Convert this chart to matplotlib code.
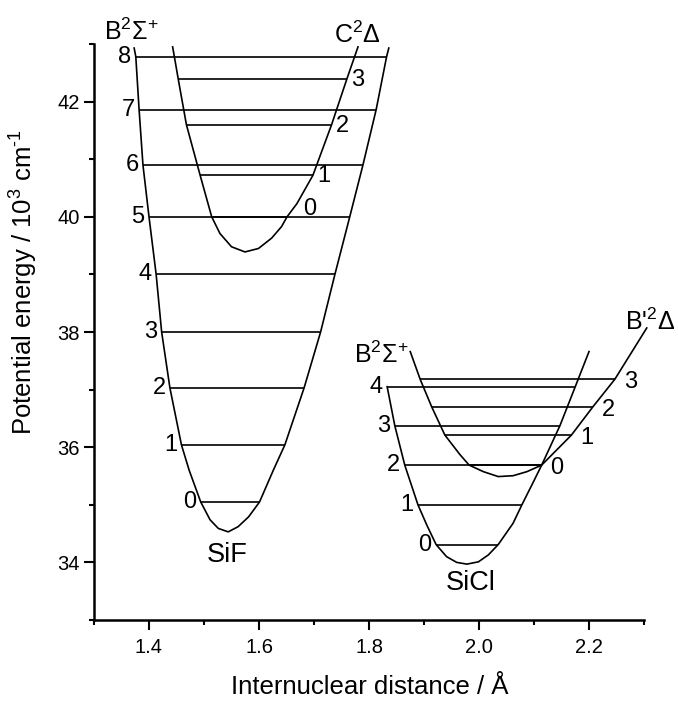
import matplotlib
matplotlib.use('Agg')
import matplotlib.pyplot as plt
from matplotlib.ticker import MultipleLocator

plt.rcParams['font.family'] = ['Liberation Sans', 'DejaVu Sans']
plt.rcParams['mathtext.fontset'] = 'custom'
plt.rcParams['mathtext.rm'] = 'Liberation Sans'
plt.rcParams['mathtext.it'] = 'Liberation Sans:italic'

# SiF B2Sigma+ potential curve and vibrational levels
sif_b_r = [1.373, 1.376, 1.382, 1.389, 1.400, 1.413, 1.423, 1.438, 1.459, 1.473,
           1.494, 1.511, 1.526, 1.544, 1.562, 1.581, 1.601, 1.626, 1.647, 1.682,
           1.712, 1.738, 1.765, 1.789, 1.813, 1.832, 1.836]
sif_b_e = [42.93, 42.78, 41.86, 40.9, 40.0, 39.0, 38.0, 37.03, 36.04, 35.60,
           35.05, 34.74, 34.59, 34.53, 34.62, 34.79, 35.05, 35.60, 36.04, 37.03,
           38.0, 39.0, 40.0, 40.9, 41.86, 42.78, 42.93]
sif_b_lev = [35.05, 36.04, 37.03, 38.0, 39.0, 40.0, 40.9, 41.86, 42.78]
sif_b_left = [1.494, 1.459, 1.438, 1.423, 1.413, 1.400, 1.389, 1.382, 1.376]
sif_b_right = [1.601, 1.647, 1.682, 1.712, 1.738, 1.765, 1.789, 1.813, 1.832]

# SiF C2Delta
sif_c_r = [1.443, 1.453, 1.468, 1.493, 1.514, 1.529, 1.550, 1.5745, 1.599, 1.623,
           1.641, 1.651, 1.669, 1.698, 1.732, 1.760, 1.780]
sif_c_e = [42.95, 42.4, 41.6, 40.72, 40.0, 39.71, 39.48, 39.39, 39.45, 39.63,
           39.83, 40.0, 40.23, 40.72, 41.6, 42.4, 42.95]
sif_c_lev = [40.0, 40.72, 41.6, 42.4]
sif_c_left = [1.514, 1.493, 1.468, 1.453]
sif_c_right = [1.651, 1.698, 1.732, 1.760]

# SiCl B2Sigma+
sicl_b_r = [1.833, 1.847, 1.865, 1.889, 1.905, 1.922, 1.941, 1.9595, 1.978, 1.999,
            2.017, 2.035, 2.062, 2.078, 2.099, 2.114, 2.147, 2.175, 2.200]
sicl_b_e = [37.05, 36.37, 35.69, 35.0, 34.65, 34.31, 34.10, 34.0, 33.97, 34.01,
            34.13, 34.31, 34.68, 35.0, 35.40, 35.69, 36.37, 37.05, 37.66]
sicl_b_lev = [34.31, 35.0, 35.69, 36.37, 37.05]
sicl_b_left = [1.922, 1.889, 1.865, 1.847, 1.833]
sicl_b_right = [2.035, 2.078, 2.114, 2.147, 2.175]

# SiCl B'2Delta
sicl_bp_r = [1.875, 1.893, 1.914, 1.938, 1.9655, 1.982, 2.008, 2.035, 2.062, 2.087,
             2.114, 2.168, 2.207, 2.247, 2.305]
sicl_bp_e = [37.66, 37.18, 36.70, 36.21, 35.87, 35.69, 35.575, 35.49, 35.505, 35.575,
             35.69, 36.21, 36.70, 37.18, 38.07]
sicl_bp_lev = [35.69, 36.21, 36.70, 37.18]
sicl_bp_left = [1.982, 1.938, 1.914, 1.893]
sicl_bp_right = [2.114, 2.168, 2.207, 2.247]

fig = plt.figure(figsize=(6.78, 7.02), dpi=100)
ax = fig.add_axes([94 / 678, 1 - 620 / 702, 550 / 678, 576 / 702])

lw = 1.2
kw = dict(color='black', lw=lw, clip_on=False, solid_joinstyle='round')
for r, e in [(sif_b_r, sif_b_e), (sif_c_r, sif_c_e), (sicl_b_r, sicl_b_e), (sicl_bp_r, sicl_bp_e)]:
    ax.plot(r, e, **kw)

states = [(sif_b_lev, sif_b_left, sif_b_right, 'left'),
          (sif_c_lev, sif_c_left, sif_c_right, 'right'),
          (sicl_b_lev, sicl_b_left, sicl_b_right, 'left'),
          (sicl_bp_lev, sicl_bp_left, sicl_bp_right, 'right')]
fs_v = 17
for i, (lev, left, right, side) in enumerate(states):
    ax.hlines(lev, left, right, colors='black', lw=lw, clip_on=False)
    for v, (e, l, r) in enumerate(zip(lev, left, right)):
        if side == 'left':
            ax.text(l - 0.008, e, str(v), ha='right', va='center', fontsize=fs_v)
        elif i == 1 and v == 0:
            ax.text(1.693, e + 0.14, str(v), ha='center', va='center', fontsize=fs_v)
        elif i == 1:
            ax.text(r + 0.008, e - 0.02, str(v), ha='left', va='center', fontsize=fs_v)
        else:
            ax.text(r + 0.016, e - 0.05, str(v), ha='left', va='center', fontsize=fs_v)

fs_s = 18
ax.text(1.367, 43.21, 'B$^{2}$Σ$^{+}$', ha='center', va='center', fontsize=fs_s, clip_on=False)
ax.text(1.778, 43.16, 'C$^{2}$Δ', ha='center', va='center', fontsize=fs_s, clip_on=False)
ax.text(1.822, 37.6, 'B$^{2}$Σ$^{+}$', ha='center', va='center', fontsize=fs_s)
ax.text(2.311, 38.17, "B'$^{2}$Δ", ha='center', va='center', fontsize=fs_s, clip_on=False)
ax.text(1.542, 34.13, 'SiF', ha='center', va='center', fontsize=19.5)
ax.text(1.984, 33.64, 'SiCl', ha='center', va='center', fontsize=19.5)

ax.set_xlim(1.3, 2.3)
ax.set_ylim(33, 43)
ax.spines['top'].set_visible(False)
ax.spines['right'].set_visible(False)
for s in ['left', 'bottom']:
    ax.spines[s].set_linewidth(1.8)
ax.xaxis.set_minor_locator(MultipleLocator(0.1))
ax.yaxis.set_minor_locator(MultipleLocator(1))
ax.set_xticks([1.4, 1.6, 1.8, 2.0, 2.2])
ax.set_xticklabels(['1.4', '1.6', '1.8', '2.0', '2.2'])
ax.set_yticks([34, 36, 38, 40, 42])
ax.tick_params(which='major', length=7, width=1.5, labelsize=14.5)
ax.tick_params(which='minor', length=3.5, width=1.5)
ax.tick_params(axis='x', which='major', pad=6)
ax.tick_params(axis='y', which='major', pad=3)

fig.text(370 / 678, 1 - 687 / 702, 'Internuclear distance / Å', ha='center', va='center', fontsize=18.5)
fig.text(24 / 678, 1 - 282 / 702, 'Potential energy / 10$^{3}$ cm$^{\u2010 1}$', ha='center', va='center',
         rotation=90, fontsize=18.5)

fig.savefig('out.png', dpi=100)
